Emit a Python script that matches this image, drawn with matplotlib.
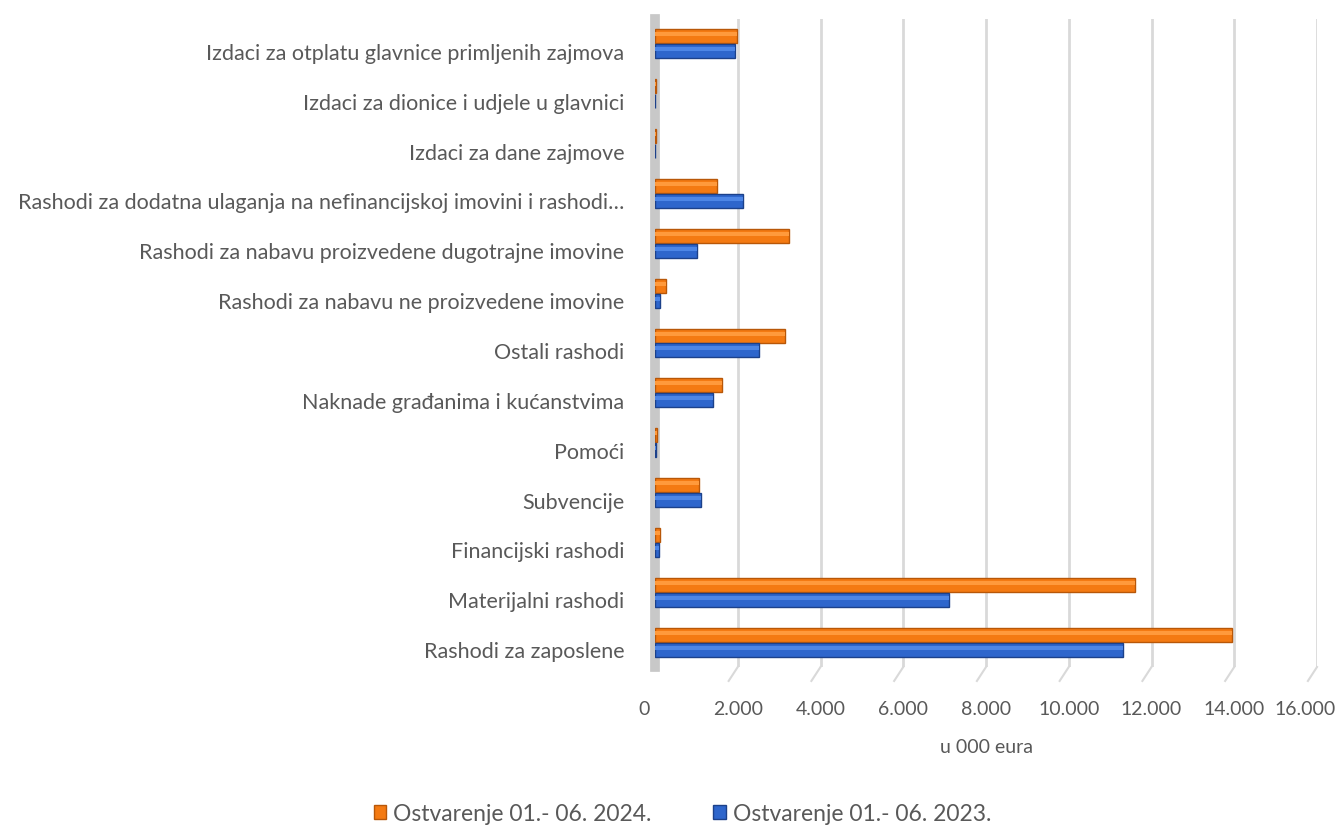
"""Rashodi po ekonomskoj klasifikaciji, 01.-06. 2023. vs 2024. (u 000 eura)."""
import matplotlib.pyplot as plt
import matplotlib.transforms as mtransforms
import numpy as np

categories = [
    "Rashodi za zaposlene",
    "Materijalni rashodi",
    "Financijski rashodi",
    "Subvencije",
    "Pomoći",
    "Naknade građanima i kućanstvima",
    "Ostali rashodi",
    "Rashodi za nabavu ne proizvedene imovine",
    "Rashodi za nabavu proizvedene dugotrajne imovine",
    "Rashodi za dodatna ulaganja na nefinancijskoj imovini i rashodi…",
    "Izdaci za dane zajmove",
    "Izdaci za dionice i udjele u glavnici",
    "Izdaci za otplatu glavnice primljenih zajmova",
]
ostv_2024 = [13940, 11600, 120, 1060, 50, 1620, 3150, 270, 3240, 1500, 20, 20, 1990]
ostv_2023 = [11300, 7100, 100, 1110, 30, 1400, 2520, 110, 1020, 2130, 10, 10, 1940]
labels = ["Ostvarenje 01.- 06. 2024.", "Ostvarenje 01.- 06. 2023."]
xticks = np.arange(0, 16001, 2000)

ORANGE, ORANGE_EDGE, ORANGE_HI = "#F47A12", "#B85708", "#FF9A3C"
BLUE, BLUE_EDGE, BLUE_HI = "#2E66CC", "#1C418A", "#4D86E6"
TXT = "#595959"
GRID = "#D9D9D9"

plt.rcParams.update({"font.family": ["Lato", "DejaVu Sans"], "font.size": 13})

fig = plt.figure(figsize=(13.38, 8.28), dpi=100)
ax = fig.add_axes([655 / 1338, 160 / 828, (1317 - 655) / 1338, (808 - 160) / 828])

y = np.arange(len(categories))
h = 0.28
ax.barh(y + 0.15, ostv_2024, height=h, color=ORANGE, edgecolor=ORANGE_EDGE, linewidth=1, zorder=3)
ax.barh(y - 0.15, ostv_2023, height=h, color=BLUE, edgecolor=BLUE_EDGE, linewidth=1, zorder=3)
# soft highlight to suggest the cylinder shading
ax.barh(y + 0.19, ostv_2024, height=0.08, color=ORANGE_HI, linewidth=0, zorder=4)
ax.barh(y - 0.11, ostv_2023, height=0.08, color=BLUE_HI, linewidth=0, zorder=4)

ax.set_xlim(0, 16000)
ax.set_ylim(-0.5, len(categories) - 0.5)
ax.set_xticks(xticks)
ax.set_xticklabels([f"{v:,.0f}".replace(",", ".") for v in xticks], color=TXT, fontsize=14)
ax.set_yticks(y)
ax.set_yticklabels(categories, color=TXT, fontsize=15.5)
ax.tick_params(axis="x", length=0, pad=24)
ax.tick_params(axis="y", length=0, pad=22)
ax.grid(axis="x", color=GRID, linewidth=2, zorder=0)
ax.set_axisbelow(True)

# perspective nudge: end x labels a bit left, category labels a bit lower
xlabs = ax.get_xticklabels()
for t, dx in ((xlabs[0], -11), (xlabs[-1], -12)):
    t.set_transform(t.get_transform() + mtransforms.ScaledTranslation(dx / 100, 0, fig.dpi_scale_trans))
shift_y = mtransforms.ScaledTranslation(0, -7 / 100, fig.dpi_scale_trans)
for t in ax.get_yticklabels():
    t.set_transform(t.get_transform() + shift_y)

# floor edge ticks of the 3D look
for v in xticks[1:]:
    ax.plot([v, v - 220], [-0.5, -0.78], color=GRID, lw=1.5, clip_on=False, zorder=1)

for s in ("top", "right", "bottom"):
    ax.spines[s].set_visible(False)
ax.spines["left"].set_color("#C8C8C8")
ax.spines["left"].set_linewidth(7)

ax.set_xlabel("u 000 eura", color=TXT, fontsize=14, labelpad=15)

handles = [plt.Rectangle((0, 0), 1, 1, facecolor=ORANGE, edgecolor=ORANGE_EDGE),
           plt.Rectangle((0, 0), 1, 1, facecolor=BLUE, edgecolor=BLUE_EDGE)]
leg = fig.legend(handles, labels, loc="lower center", bbox_to_anchor=(0.51, -0.016), ncol=2,
                 frameon=False, fontsize=16.5, handlelength=0.55, handleheight=0.55,
                 handletextpad=0.3, columnspacing=2.7, borderpad=0.2)
for t in leg.get_texts():
    t.set_color(TXT)

fig.savefig("out.png", dpi=100)
